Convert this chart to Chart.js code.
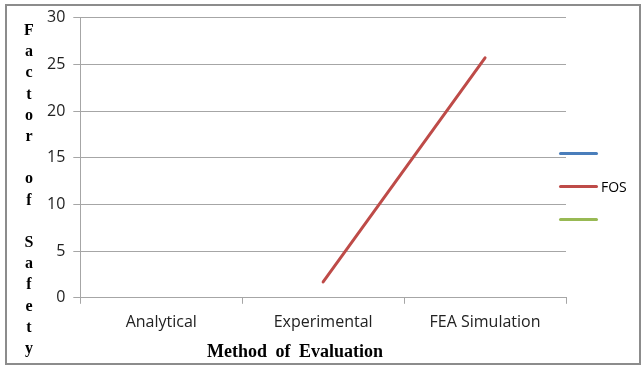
<!DOCTYPE html>
<html lang="en">
<head>
  <meta charset="UTF-8" />
  <title>Factor of Safety</title>
  <script src="https://cdn.jsdelivr.net/npm/chart.js"></script>
  <style>
    body {
      margin: 0;
      background: #ffffff;
    }
    .wrap {
      position: relative;
      width: 644px;
      height: 369px;
    }
    .frame {
      position: absolute;
      left: 5px;
      top: 4px;
      width: 632px;
      height: 357px;
      border: 2px solid #8c8c8c;
      pointer-events: none;
    }
    .ytitle {
      position: absolute;
      left: 19px;
      top: 19px;
      width: 20px;
      text-align: center;
      font-family: 'Liberation Serif', serif;
      font-weight: bold;
      font-size: 16px;
      line-height: 21.2px;
      color: #000;
    }
    .xtitle {
      position: absolute;
      left: 207px;
      top: 341px;
      font-family: 'Liberation Serif', serif;
      font-weight: bold;
      font-size: 18px;
      word-spacing: 4px;
      color: #000;
    }
    .legend {
      position: absolute;
      left: 559px;
      top: 137px;
      font-family: 'Open Sans', sans-serif;
      font-size: 14px;
      color: #000;
    }
    .legend .item {
      height: 33px;
      display: flex;
      align-items: center;
    }
    .legend .mark {
      width: 39px;
      height: 3px;
      border-radius: 2px;
    }
    .legend .txt {
      margin-left: 3px;
    }
  </style>
</head>
<body>

<div class="wrap">
  <canvas id="chart"></canvas>
  <div class="frame"></div>
  <div class="ytitle" id="ytitle"></div>
  <div class="xtitle">Method of Evaluation</div>
  <div class="legend" id="legend"></div>
</div>

<script>
const categories = ['Analytical', 'Experimental', 'FEA Simulation'];
const seriesBlue = [null, null, null];
const seriesFOS = [null, 1.7, 25.7];
const seriesGreen = [null, null, null];
const yMin = 0, yMax = 30, yStep = 5;

// stacked letters of the y title, blank line between words
const yTitle = 'Factor of Safety';
document.getElementById('ytitle').innerHTML = yTitle.split(' ')
  .map(w => w.split('').join('<br>')).join('<br>&nbsp;<br>');

const datasets = [
  { label: '', data: seriesBlue, borderColor: '#4a7ebb' },
  { label: 'FOS', data: seriesFOS, borderColor: '#be4b48' },
  { label: '', data: seriesGreen, borderColor: '#98b954' }
].map(d => Object.assign(d, {
  borderWidth: 3,
  pointRadius: 0,
  borderCapStyle: 'round',
  fill: false,
  tension: 0
}));

// html legend, same look as the office one
document.getElementById('legend').innerHTML = datasets.map(d =>
  `<div class="item"><div class="mark" style="background:${d.borderColor}"></div><span class="txt">${d.label}</span></div>`
).join('');

const tickFont = { family: 'Open Sans', size: 16 };

new Chart(document.getElementById('chart'), {
  type: 'line',
  data: { labels: categories, datasets: datasets },
  options: {
    responsive: true,
    maintainAspectRatio: false,
    animation: false,
    layout: { padding: { left: 39, top: 8, right: 78, bottom: 28 } },
    plugins: {
      legend: { display: false },
      tooltip: { enabled: false }
    },
    scales: {
      x: {
        offset: true,
        grid: { drawOnChartArea: false, drawTicks: true, tickLength: 6, color: '#a6a6a6', offset: true },
        border: { color: '#a6a6a6', width: 1 },
        ticks: { color: '#222', font: tickFont, padding: 9 }
      },
      y: {
        min: yMin,
        max: yMax,
        grid: { color: '#a6a6a6', tickLength: 7 },
        border: { color: '#a6a6a6', width: 1 },
        ticks: { stepSize: yStep, color: '#222', font: tickFont, padding: 8 }
      }
    }
  }
});
</script>

</body>
</html>
